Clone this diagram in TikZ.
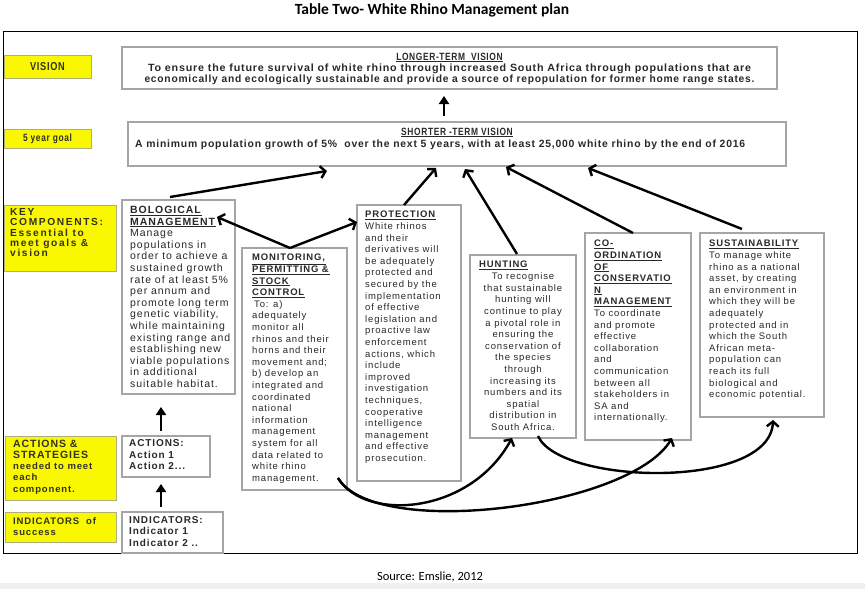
\documentclass[tikz,border=0pt]{standalone}
\usepackage{fontspec}
\setmainfont{Liberation Sans}
\newfontfamily\bodyfont[LetterSpace=9]{Liberation Sans}
\newfontfamily\keyfont[LetterSpace=16]{Liberation Sans}
\newfontfamily\narrowfont[FakeStretch=0.8,LetterSpace=6]{Liberation Sans}
\newfontfamily\calfont{Carlito}
\usetikzlibrary{arrows.meta,calc}
\definecolor{ylw}{RGB}{250,248,0}
\definecolor{ylwedge}{RGB}{175,175,120}
\definecolor{boxedge}{RGB}{165,165,165}
\definecolor{txt}{RGB}{40,40,40}
\definecolor{ytxt}{RGB}{50,50,35}
\newlength\fitlen
\newcommand\fitw[2]{\settowidth\fitlen{#2}\pgfmathsetmacro\fitratio{#1/\fitlen}\scalebox{\fitratio}[1]{#2}}
\newcommand\ul[1]{\underline{\textbf{#1}}}
\begin{document}
\begin{tikzpicture}[x=1pt,y=-1pt,
  compbox/.style={draw=boxedge, line width=1.1pt, anchor=north west, inner sep=0pt, outer sep=0pt},
  ybox/.style={draw=ylwedge, fill=ylw, line width=0.8pt, anchor=north west, inner sep=0pt, outer sep=0pt, text=ytxt},
  btxt/.style={anchor=north west, inner sep=0pt, align=left, text=txt, font=\bodyfont\fontsize{9.5}{11.6}\selectfont},
  ytx/.style={anchor=north west, inner sep=0pt, align=left, text=ytxt, font=\bodyfont\bfseries\fontsize{9.5}{11.3}\selectfont},
  vtxt/.style={inner sep=0pt, text=txt, font=\narrowfont\bfseries\fontsize{10.5}{11}\selectfont},
  barb/.style={line width=2.4pt, -{Straight Barb[length=5pt,width=12pt]}},
  upar/.style={line width=2.6pt, -{Triangle[length=8pt,width=10pt]}}
]
\useasboundingbox (0,0) rectangle (865,589);
\fill[gray!12] (0,583) rectangle (865,589);
% title and source
\node[font=\calfont\bfseries\fontsize{15.5}{17}\selectfont, anchor=base] (title) at (432,14) {Table Two- White Rhino Management plan};
\node[font=\calfont\fontsize{12.5}{14}\selectfont, anchor=base] (source) at (430,580) {Source: Emslie, 2012};
% frame
\draw[line width=1pt] (3,31) rectangle (857,553);

% vision row
\node[ybox, minimum width=87pt, minimum height=23pt, font=\narrowfont\bfseries\fontsize{11.5}{12}\selectfont] (yvis) at (4,55) {VISION};
\node[compbox, minimum width=655pt, minimum height=42pt] (long) at (122,47) {};
\node[vtxt, anchor=base] (longt) at ($(long.north)+(0,13)$) {\underline{LONGER-TERM\ \ VISION}};
\node[vtxt, anchor=base] (long1) at ($(long.north)+(0,24.5)$) {\fitw{603}{To ensure the future survival of white rhino through increased South Africa through populations that are}};
\node[vtxt, anchor=base] (long2) at ($(long.north)+(0,35.5)$) {\fitw{610}{economically and ecologically sustainable and provide a source of repopulation for former home range states.}};

% goal row
\node[ybox, minimum width=87pt, minimum height=19pt, font=\narrowfont\bfseries\fontsize{10.5}{11}\selectfont] (ygoal) at (4,129) {5 year goal};
\node[compbox, minimum width=658pt, minimum height=44pt] (short) at (128,122) {};
\node[vtxt, anchor=base] (shortt) at ($(short.north)+(0,13)$) {\underline{SHORTER -TERM VISION}};
\node[vtxt, anchor=base west] (short1) at ($(short.north west)+(7,25)$) {\fitw{610}{A minimum population growth of 5\%\ \ over the next 5 years, with at least 25,000 white rhino by the end of 2016}};

% key components
\node[ybox, minimum width=112pt, minimum height=66pt] (ykey) at (4,205) {};
\node[ytx, font=\keyfont\bfseries\fontsize{10.2}{10.2}\selectfont] (ykeyt) at ($(ykey.north west)+(6,3.5)$) {KEY\\COMPONENTS:\\Essential to\\meet goals \&\\vision};

\node[compbox, minimum width=113pt, minimum height=194pt] (bio) at (122,200) {};
\node[btxt, font=\bodyfont\fontsize{10.5}{11.6}\selectfont] (biot) at ($(bio.north west)+(8,6)$) {\ul{BOLOGICAL}\\\ul{MANAGEMENT}\\Manage\\populations in\\order to achieve a\\sustained growth\\rate of at least 5\%\\per annum and\\promote long term\\genetic viability,\\while maintaining\\existing range and\\establishing new\\viable populations\\in additional\\suitable habitat.};

\node[compbox, minimum width=105pt, minimum height=242pt] (mon) at (242,248) {};
\node[btxt] (mont) at ($(mon.north west)+(10,6)$) {\ul{MONITORING,}\\\ul{PERMITTING \&}\\\ul{STOCK}\\\ul{CONTROL}\\\hspace{2pt}To: a)\\adequately\\monitor all\\rhinos and their\\horns and their\\movement and;\\b) develop an\\integrated and\\coordinated\\national\\information\\management\\system for all\\data related to\\white rhino\\management.};

\node[compbox, minimum width=104pt, minimum height=276pt] (prot) at (357,205) {};
\node[btxt] (prott) at ($(prot.north west)+(8,6)$) {\ul{PROTECTION}\\White rhinos\\and their\\derivatives will\\be adequately\\protected and\\secured by the\\implementation\\of effective\\legislation and\\proactive law\\enforcement\\actions, which\\include\\improved\\investigation\\techniques,\\cooperative\\intelligence\\management\\and effective\\prosecution.};

\node[compbox, minimum width=106pt, minimum height=183pt] (hunt) at (470,255) {};
\node[btxt] (huntt) at ($(hunt.north west)+(9,6)$) {\ul{HUNTING}};
\node[btxt, align=center, anchor=north] (huntb) at ($(hunt.north)+(0,17.6)$) {To recognise\\that sustainable\\hunting will\\continue to play\\a pivotal role in\\ensuring the\\conservation of\\the species\\through\\increasing its\\numbers and its\\spatial\\distribution in\\South Africa.};

\node[compbox, minimum width=106pt, minimum height=207pt] (coord) at (585,233) {};
\node[btxt] (coordt) at ($(coord.north west)+(9,7)$) {\ul{CO-}\\\ul{ORDINATION}\\\ul{OF}\\\ul{CONSERVATIO}\\\ul{N}\\\ul{MANAGEMENT}\\To coordinate\\and promote\\effective\\collaboration\\and\\communication\\between all\\stakeholders in\\SA and\\internationally.};

\node[compbox, minimum width=124pt, minimum height=184pt] (sust) at (700,233) {};
\node[btxt] (sustt) at ($(sust.north west)+(9,7)$) {\ul{SUSTAINABILITY}\\To manage white\\rhino as a national\\asset, by creating\\an environment in\\which they will be\\adequately\\protected and in\\which the South\\African meta-\\population can\\reach its full\\biological and\\economic potential.};

% actions and indicators
\node[ybox, minimum width=111pt, minimum height=64pt] (yact) at (5,436) {};
\node[ytx] (yactt) at ($(yact.north west)+(8,3.5)$) {{\fontsize{10.5}{11.3}\selectfont ACTIONS \&}\\{\fontsize{10.5}{11.3}\selectfont STRATEGIES}\\needed to meet\\each\\component.};
\node[compbox, minimum width=88pt, minimum height=41pt] (act) at (122,436) {};
\node[ytx, text=txt, font=\bodyfont\bfseries\fontsize{10}{11.5}\selectfont] (actt) at ($(act.north west)+(7,3.5)$) {ACTIONS:\\Action 1\\Action 2...};

\node[ybox, minimum width=111pt, minimum height=30pt] (yind) at (5,512) {};
\node[ytx] (yindt) at ($(yind.north west)+(8,5)$) {INDICATORS\ \ of\\success};
\node[compbox, minimum width=101pt, minimum height=41pt] (ind) at (122,512) {};
\node[ytx, text=txt, font=\bodyfont\bfseries\fontsize{10}{11.3}\selectfont] (indt) at ($(ind.north west)+(7,4.5)$) {INDICATORS:\\Indicator 1\\Indicator 2 ..};

% vertical arrows
\draw[upar] ($(short.north west)+(316,-6)$) -- ($(long.south west)+(322,7)$);
\draw[upar] ($(act.north west)+(39,-5)$) -- ($(bio.south west)+(39,13)$);
\draw[upar] ($(ind.north west)+(39,-5)$) -- ($(act.south west)+(39,7)$);

% arrows to shorter-term vision
\draw[barb] ($(bio.north west)+(48,-3)$) -- ($(short.south west)+(199,5)$);
\draw[barb] ($(prot.north west)+(47,0)$) -- ($(short.south west)+(308,2)$);
\draw[barb] ($(hunt.north west)+(47,-1)$) -- ($(short.south west)+(337,3)$);
\draw[barb] ($(coord.north west)+(48,0)$) -- ($(short.south west)+(378,1)$);
\draw[barb] ($(sust.north west)+(42,-4)$) -- ($(short.south west)+(460,2)$);

% monitoring to biological and protection
\coordinate (apex) at ($(mon.north west)+(48,0)$);
\draw[barb] (apex) -- ($(bio.north east)+(-18,17)$);
\draw[barb] (apex) -- ($(prot.north west)+(0,17)$);

% curved arrows
\coordinate (cstart) at ($(mon.south east)+(-9,-12)$);
\draw[barb] (cstart) .. controls (365,522) and (470,515) .. ($(hunt.south west)+(42,0)$);
\draw[barb] (cstart) .. controls (375,540) and (630,508) .. ($(coord.south west)+(87,-2)$);
\draw[barb] ($(hunt.south west)+(68,-2)$) .. controls (560,485) and (770,490) .. ($(sust.south west)+(73,3)$);
\end{tikzpicture}
\end{document}
